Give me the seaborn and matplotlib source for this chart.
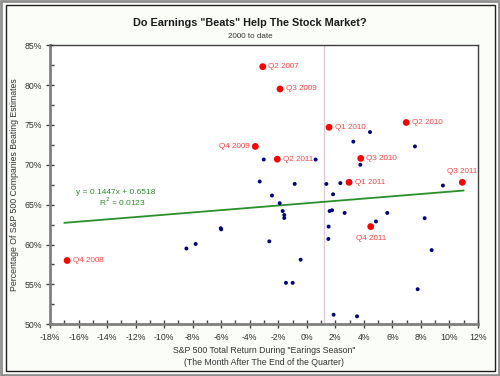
import numpy as np
import pandas as pd
import seaborn as sns
import matplotlib.pyplot as plt
from matplotlib.patches import Rectangle
from matplotlib.ticker import MultipleLocator, FuncFormatter

# Quarters called out in red (return %, beat %)
red_labels = ['Q2 2007', 'Q3 2009', 'Q1 2010', 'Q2 2010', 'Q4 2009', 'Q2 2011',
              'Q3 2010', 'Q1 2011', 'Q3 2011', 'Q4 2011', 'Q4 2008']
red_ret = [-3.09, -1.88, 1.56, 6.97, -3.61, -2.07, 3.78, 2.96, 10.9, 4.48, -16.8]
red_beat = [82.3, 79.5, 74.7, 75.3, 72.3, 70.7, 70.8, 67.8, 67.8, 62.25, 58.0]
label_pos = ['right', 'right', 'right', 'right', 'left', 'right',
             'right', 'right', 'above', 'below', 'right']

# All other quarters
blue_ret = [-3.02, -3.30, 0.62, 4.43, 3.26, 7.58, 3.75, -0.85, 1.37, 2.35,
            9.54, -2.44, 1.84, -1.90, -1.69, -1.58, -1.58, 1.60, 1.77, 2.65,
            5.64, 4.85, 8.26, 1.53, -2.63, 1.51, 8.75, -0.43, -1.46, -0.99,
            7.77, 1.88, 3.52, -8.44, -7.79, -6.03, -6.00]
blue_beat = [70.66, 67.9, 70.66, 74.1, 72.9, 72.3, 70.0, 67.6, 67.6, 67.7,
             67.4, 66.14, 66.3, 65.18, 64.2, 63.7, 63.33, 64.2, 64.3, 63.96,
             63.96, 62.9, 63.3, 62.25, 60.4, 60.7, 59.3, 58.1, 55.2, 55.2,
             54.4, 51.2, 51.0, 59.5, 60.07, 62.04, 61.9]

# Trendline from the chart's own equation
slope, intercept = 0.1447, 0.6518
trend_x = [-17.0, 11.0]
avg_return = 1.23

blue = pd.DataFrame({'ret': blue_ret, 'beat': blue_beat})
red = pd.DataFrame({'ret': red_ret, 'beat': red_beat, 'label': red_labels})
trend = pd.DataFrame({'ret': trend_x})
trend['beat'] = (slope * trend['ret'] / 100 + intercept) * 100

sns.set_style('white')
plt.rcParams['font.family'] = ['Liberation Sans', 'DejaVu Sans']

fig = plt.figure(figsize=(5, 3.76), dpi=100)
fig.patch.set_facecolor('#fbfdf9')
ax = fig.add_axes([0.1, 0.1375, 0.856, 0.7425])
ax.set_facecolor('white')

ax.axvline(avg_return, color='#dccadc', lw=1, zorder=1)
sns.lineplot(trend, x='ret', y='beat', ax=ax, color='#2a8f2a', lw=1.3, zorder=2)
sns.scatterplot(blue, x='ret', y='beat', ax=ax, color='#000080', s=8,
                edgecolor='none', zorder=3)
sns.scatterplot(red, x='ret', y='beat', ax=ax, color='#ff0000', s=24,
                edgecolor='none', zorder=4)

for i, r in red.iterrows():
    pos = label_pos[i]
    if pos == 'right':
        kw = dict(xytext=(4, 0), ha='left', va='center')
    elif pos == 'left':
        kw = dict(xytext=(-4, 0), ha='right', va='center')
    elif pos == 'above':
        kw = dict(xytext=(0, 5), ha='center', va='bottom')
    else:
        kw = dict(xytext=(0, -6), ha='center', va='top')
    ax.annotate(r['label'], (r['ret'], r['beat']), textcoords='offset points',
                fontsize=5.8, color='#ff4040', **kw)

ax.text(-16.2, 66.3, 'y = 0.1447x + 0.6518', fontsize=6, color='#2a8a2a')
ax.text(-14.6, 64.8, 'R$^2$ = 0.0123', fontsize=6, color='#2a8a2a')

ax.set_xlim(-18, 12)
ax.set_ylim(50, 85)
ax.xaxis.set_major_locator(MultipleLocator(2))
ax.xaxis.set_minor_locator(MultipleLocator(1))
ax.yaxis.set_major_locator(MultipleLocator(5))
ax.yaxis.set_minor_locator(MultipleLocator(2.5))
ax.xaxis.set_major_formatter(FuncFormatter(lambda v, p: f'{v:.0f}%'))
ax.yaxis.set_major_formatter(FuncFormatter(lambda v, p: f'{v:.0f}%'))
ax.tick_params(which='major', direction='inout', length=6, width=1,
               color='#404040', labelsize=6.3, labelcolor='#333333', pad=3,
               bottom=True, left=True)
ax.tick_params(which='minor', direction='in', length=3, width=1,
               color='#404040', bottom=True, left=True)

for side in ['left', 'bottom']:
    ax.spines[side].set_color('#808080')
    ax.spines[side].set_linewidth(2)
for side in ['top', 'right']:
    ax.spines[side].set_color('#404040')
    ax.spines[side].set_linewidth(1)

ax.set_xlabel('S&P 500 Total Return During "Earings Season"\n(The Month After The End of the Quarter)',
              fontsize=6.3, color='#333333', labelpad=3, linespacing=1.45)
ax.set_ylabel('Percentage Of S&P 500 Companies Beating Estimates',
              fontsize=6.3, color='#333333', labelpad=4)

fig.text(0.5, 0.932, 'Do Earnings "Beats" Help The Stock Market?',
         ha='center', fontsize=7.8, fontweight='bold', color='#1a1a1a')
fig.text(0.5, 0.900, '2000 to date', ha='center', fontsize=5.8, color='#333333')

# double frame round the figure
fig.patches.append(Rectangle((0.002, 0.003), 0.996, 0.994, transform=fig.transFigure,
                             fill=False, ec='#909090', lw=2))
fig.patches.append(Rectangle((0.011, 0.014), 0.978, 0.972, transform=fig.transFigure,
                             fill=False, ec='#202020', lw=1))

fig.savefig('out.png', dpi=100, facecolor=fig.get_facecolor())
